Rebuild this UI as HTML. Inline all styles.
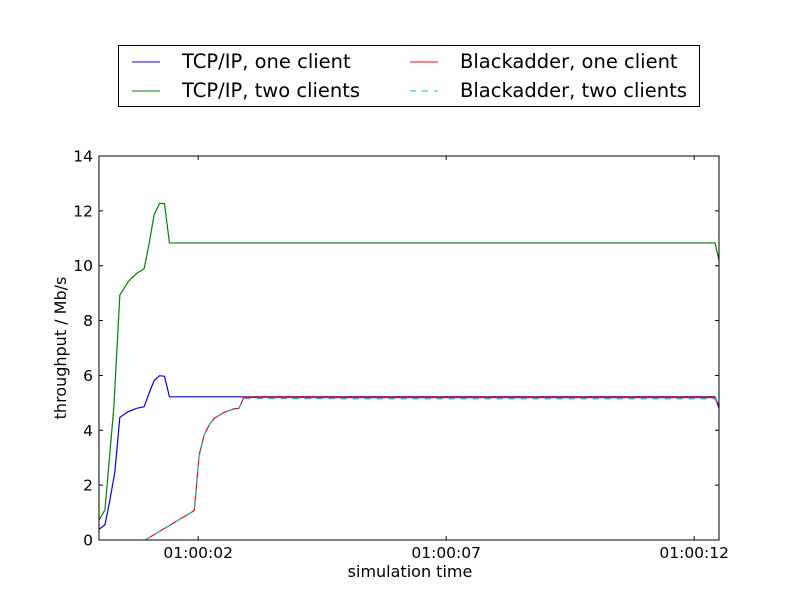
<!DOCTYPE html>
<html><head><meta charset="utf-8"><style>
body{margin:0;background:#fff;}
svg text{font-family:"DejaVu Sans","Liberation Sans",sans-serif;fill:#000;}
</style></head><body>
<svg width="800" height="600" xmlns="http://www.w3.org/2000/svg">
<rect width="800" height="600" fill="#fff"/>
<g id="plot"></g>
<g>
<rect x="118.5" y="45.5" width="581" height="61" fill="#fff" stroke="#000"/>
<line x1="132" x2="160" y1="62" y2="62" stroke="#0000ff"/>
<text x="182" y="68" font-size="19.5">TCP/IP, one client</text>
<line x1="132" x2="160" y1="91" y2="91" stroke="#008000"/>
<text x="182" y="97" font-size="19.5">TCP/IP, two clients</text>
<line x1="410" x2="438" y1="62" y2="62" stroke="#ff0000"/>
<text x="460" y="68" font-size="19.5">Blackadder, one client</text>
<line x1="410" x2="438" y1="91" y2="91" stroke="#00bfbf" stroke-dasharray="6,6"/>
<text x="460" y="97" font-size="19.5">Blackadder, two clients</text>
</g>
<text x="410" y="577" font-size="16" text-anchor="middle">simulation time</text>
<text transform="translate(66,348) rotate(-90)" font-size="16" text-anchor="middle">throughput / Mb/s</text>
</svg>
<script>
const xTickVals=[2,7,12];
const xTickLabels=["01:00:02","01:00:07","01:00:12"];
const yTickVals=[0,2,4,6,8,10,12,14];
const tcpOneT=[0,0.12,0.22,0.32,0.42,0.59,0.76,0.91,1.01,1.11,1.22,1.32,1.42,3,5,7,9,11,12.42,12.5];
const tcpOneV=[0.39,0.55,1.46,2.49,4.47,4.68,4.8,4.86,5.35,5.81,5.99,5.97,5.22,5.22,5.22,5.22,5.22,5.22,5.22,4.8];
const tcpTwoT=[0,0.12,0.3,0.42,0.59,0.76,0.91,1.01,1.11,1.22,1.32,1.42,3,5,7,9,11,12.42,12.5];
const tcpTwoV=[0.73,1.09,4.86,8.93,9.42,9.72,9.89,10.8,11.85,12.27,12.27,10.83,10.83,10.83,10.83,10.83,10.83,10.83,10.2];
const bkOneT=[0.93,1.92,2.02,2.12,2.22,2.32,2.52,2.72,2.82,2.92,5,7,9,11,12.42,12.5];
const bkOneV=[0,1.07,3.1,3.83,4.19,4.43,4.65,4.78,4.8,5.2,5.19,5.19,5.19,5.19,5.19,4.9];
const bkTwoT=[0.93,1.92,2.02,2.12,2.22,2.32,2.52,2.72,2.82,2.92,5,7,9,11,12.42,12.5];
const bkTwoV=[0,1.07,3.1,3.83,4.19,4.43,4.65,4.78,4.8,5.16,5.15,5.15,5.15,5.15,5.15,4.85];
const L=99,R=719,T=156,B=540,xMax=12.5,yMax=14;
const xs=t=>L+(t/xMax)*(R-L), ys=v=>B-(v/yMax)*(B-T);
const NS="http://www.w3.org/2000/svg", g=document.getElementById('plot');
function mk(tag,a){const e=document.createElementNS(NS,tag);for(const k in a)e.setAttribute(k,a[k]);g.appendChild(e);return e;}
const clip=document.createElementNS(NS,'clipPath');clip.setAttribute('id','c');
const cr=document.createElementNS(NS,'rect');cr.setAttribute('x',L);cr.setAttribute('y',T);cr.setAttribute('width',R-L);cr.setAttribute('height',B-T);clip.appendChild(cr);g.appendChild(clip);
function line(ts,vs,color,name,dash){
 const p=mk('polyline',{points:ts.map((t,i)=>xs(t)+','+ys(vs[i])).join(' '),fill:'none',stroke:color,'stroke-width':1.2,'clip-path':'url(#c)'});
 if(dash)p.setAttribute('stroke-dasharray',dash);
 
 
}
line(tcpTwoT,tcpTwoV,'#008000','series-tcp-two-clients');
line(tcpOneT,tcpOneV,'#0000ff','series-tcp-one-client');
line(bkOneT,bkOneV,'#ff0000','series-blackadder-one-client');
line(bkTwoT,bkTwoV,'#00bfbf','series-blackadder-two-clients','6,6');
const fr=mk('rect',{x:L,y:T,width:R-L,height:B-T,fill:'none',stroke:'#000'});


yTickVals.forEach(v=>{
 const y=ys(v);
 mk('line',{x1:L,x2:L+4,y1:y,y2:y,stroke:'#000'});
 mk('line',{x1:R,x2:R-4,y1:y,y2:y,stroke:'#000'});
 const t=mk('text',{x:L-6,y:y+5.5,'font-size':15.5,'text-anchor':'end'});t.textContent=v;
 
 
});
xTickVals.forEach((v,i)=>{
 const x=xs(v);
 mk('line',{x1:x,x2:x,y1:B,y2:B-4,stroke:'#000'});
 mk('line',{x1:x,x2:x,y1:T,y2:T+4,stroke:'#000'});
 const t=mk('text',{x:x,y:B+18,'font-size':15.5,'text-anchor':'middle'});t.textContent=xTickLabels[i];
 
 
});
</script>
</body></html>
